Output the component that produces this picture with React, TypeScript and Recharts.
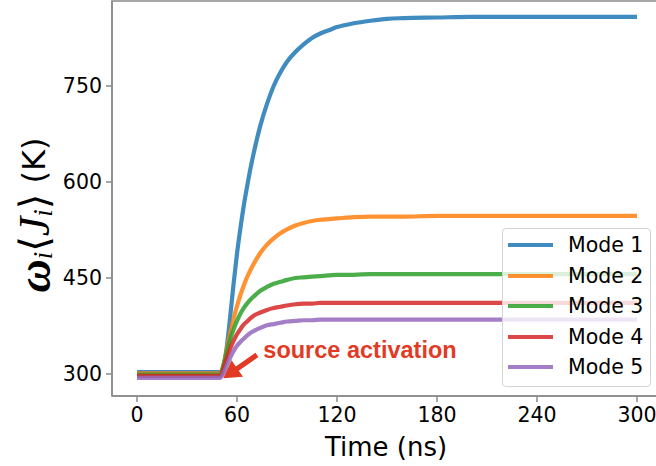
import React from "react";
import { LineChart, Line, XAxis, YAxis, Legend, ReferenceArea, ReferenceDot, Label } from "recharts";

// time in ns, values in K
const times = [0, 50, 52, 54, 56, 58, 60, 62, 64, 66, 68, 70, 74, 78, 82, 86, 90, 95, 100, 105, 110, 115, 120, 130, 140, 150, 160, 180, 200, 250, 300];
const mode1 = [303, 303, 312, 345, 392, 442, 488, 527, 562, 592, 620, 645, 688, 722, 750, 771, 788, 803, 815, 825, 832, 837, 842, 848, 852, 855, 856, 857, 858, 858, 858];
const mode2 = [301, 301, 315, 340, 365, 387, 406, 423, 438, 451, 462, 472, 489, 502, 512, 520, 526, 532, 536, 539, 541, 542, 543, 545, 546, 546, 546, 547, 547, 547, 547];
const mode3 = [299, 299, 315, 336, 355, 370, 383, 394, 403, 410, 416, 421, 430, 436, 441, 444, 447, 450, 451, 452, 453, 454, 455, 455, 456, 456, 456, 456, 456, 456, 456];
const mode4 = [297, 297, 310, 326, 340, 352, 362, 370, 377, 382, 387, 391, 396, 400, 403, 405, 407, 409, 410, 410, 411, 411, 411, 411, 411, 411, 411, 411, 411, 411, 411];
const mode5 = [294, 294, 302, 314, 326, 336, 344, 350, 355, 360, 364, 367, 372, 376, 378, 380, 382, 383, 384, 384, 385, 385, 385, 385, 385, 385, 385, 385, 385, 385, 385];

const modeNames = ["Mode 1", "Mode 2", "Mode 3", "Mode 4", "Mode 5"];
const modeKeys = ["m1", "m2", "m3", "m4", "m5"];
const modeColors = ["#1f77b4", "#ff7f0e", "#2ca02c", "#d62728", "#9467bd"];

const xTicks = [0, 60, 120, 180, 240, 300];
const yTicks = [300, 450, 600, 750];

const data = times.map((t, i) => ({
  t,
  m1: mode1[i],
  m2: mode2[i],
  m3: mode3[i],
  m4: mode4[i],
  m5: mode5[i],
}));

const X_DOMAIN: [number, number] = [-15, 315];
const Y_DOMAIN: [number, number] = [265.6, 882.8];
const SPINE = "#8a8a8a";
const RED = "#e23b25";
const TICK_SIZE = 20.5;

function XTick(props: any) {
  const { x, y, payload } = props;
  return (
    <text x={x} y={y} dy={14.5} textAnchor="middle" fontFamily="DejaVu Sans" fontSize={TICK_SIZE} fill="#000">
      {payload.value}
    </text>
  );
}

function YTick(props: any) {
  const { x, y, payload } = props;
  return (
    <text x={x} y={y} dy={7.3} textAnchor="end" fontFamily="DejaVu Sans" fontSize={TICK_SIZE} fill="#000">
      {payload.value}
    </text>
  );
}

function LegendBox(props: any) {
  const payload = props.payload || [];
  return (
    <div
      style={{
        background: "rgba(255,255,255,0.8)",
        border: "1px solid #d4d4d4",
        borderRadius: 4,
        padding: "1px 2px 3px 5px",
        boxSizing: "border-box",
        width: 149,
      }}
    >
      {payload.map((p: any) => (
        <div key={p.value} style={{ display: "flex", alignItems: "center", height: 30.5, whiteSpace: "nowrap" }}>
          <span style={{ width: 45, height: 4, background: p.color, opacity: 0.85, marginRight: 15, display: "inline-block", flexShrink: 0 }} />
          <span style={{ fontSize: 20.5, fontFamily: "DejaVu Sans", color: "#000", lineHeight: "20px", whiteSpace: "nowrap" }}>{p.value}</span>
        </div>
      ))}
    </div>
  );
}

function YLabel(props: any) {
  const { viewBox } = props;
  const cx = 34;
  const cy = (viewBox?.y ?? 0) + 214;
  return (
    <text
      x={cx}
      y={cy}
      transform={`rotate(-90, ${cx}, ${cy})`}
      textAnchor="middle"
      dominantBaseline="central"
      fill="#000"
    >
      <tspan fontFamily="Liberation Serif" fontStyle="italic" fontWeight="bold" fontSize={46}>ω</tspan>
      <tspan fontFamily="Liberation Serif" fontStyle="italic" fontSize={27} dy={9}>i</tspan>
      <tspan fontFamily="DejaVu Sans" fontSize={40} dy={-9}>⟨</tspan>
      <tspan fontFamily="Liberation Serif" fontStyle="italic" fontSize={44}>J</tspan>
      <tspan fontFamily="Liberation Serif" fontStyle="italic" fontSize={27} dy={9}>i</tspan>
      <tspan fontFamily="DejaVu Sans" fontSize={40} dy={-9}>⟩</tspan>
      <tspan fontFamily="DejaVu Sans" fontSize={32}>{" (K)"}</tspan>
    </text>
  );
}

function XLabel(props: any) {
  const { viewBox } = props;
  return (
    <text
      x={viewBox.x + viewBox.width / 2 - 1}
      y={viewBox.y + 60}
      textAnchor="middle"
      fontFamily="DejaVu Sans"
      fontSize={26}
      fill="#000"
    >
      Time (ns)
    </text>
  );
}

function SourceArrow(props: any) {
  const { cx, cy } = props;
  if (cx == null || cy == null) return null;
  // tip at (cx, cy), pointing down-left
  const ux = 0.82;
  const uy = -0.572;
  const nx = 0.572;
  const ny = 0.82;
  const headLen = 17;
  const headHalf = 10;
  const shaftHalf = 2.6;
  const len = 41;
  const bx = cx + ux * headLen;
  const by = cy + uy * headLen;
  const ex = cx + ux * len;
  const ey = cy + uy * len;
  const pts = [
    [cx, cy],
    [bx + nx * headHalf, by + ny * headHalf],
    [bx + nx * shaftHalf, by + ny * shaftHalf],
    [ex + nx * shaftHalf, ey + ny * shaftHalf],
    [ex - nx * shaftHalf, ey - ny * shaftHalf],
    [bx - nx * shaftHalf, by - ny * shaftHalf],
    [bx - nx * headHalf, by - ny * headHalf],
  ]
    .map((p) => p.join(","))
    .join(" ");
  return (
    <g>
      <polygon points={pts} fill={RED} />
      <text x={cx + 40} y={cy - 20} fontFamily="Liberation Sans" fontWeight="bold" fontSize={23.5} fill={RED}>
        source activation
      </text>
    </g>
  );
}

export default function App() {
  return (
    <div style={{ position: "absolute", left: 0, top: 0, width: 656, height: 466, overflow: "hidden", background: "#fff" }}>
      <LineChart width={670} height={466} data={data} margin={{ top: 1, right: 8, bottom: 0, left: 0 }}>
        <ReferenceArea x1={X_DOMAIN[0]} x2={X_DOMAIN[1]} y1={Y_DOMAIN[0]} y2={Y_DOMAIN[1]} fill="none" stroke={SPINE} strokeWidth={1.5} />
        <XAxis
          dataKey="t"
          type="number"
          domain={X_DOMAIN}
          ticks={xTicks}
          allowDataOverflow
          height={70}
          tick={<XTick />}
          tickSize={6}
          tickMargin={5}
          stroke={SPINE}
          strokeWidth={1.5}
        >
          <Label content={<XLabel />} />
        </XAxis>
        <YAxis
          type="number"
          domain={Y_DOMAIN}
          ticks={yTicks}
          allowDataOverflow
          width={112}
          tick={<YTick />}
          tickSize={6}
          tickMargin={4}
          stroke={SPINE}
          strokeWidth={1.5}
        >
          <Label content={<YLabel />} />
        </YAxis>
        {modeKeys.map((k, i) => (
          <Line
            key={k}
            dataKey={k}
            name={modeNames[i]}
            type="monotone"
            stroke={modeColors[i]}
            strokeOpacity={0.85}
            strokeWidth={4.2}
            dot={false}
            activeDot={false}
            isAnimationActive={false}
          />
        ))}
        <ReferenceDot x={51.8} y={293.3} r={0} shape={<SourceArrow />} ifOverflow="visible" />
        <Legend
          layout="vertical"
          align="center"
          verticalAlign="middle"
          content={<LegendBox />}
          wrapperStyle={{ left: 502, top: 228, width: 149 }}
        />
      </LineChart>
    </div>
  );
}
